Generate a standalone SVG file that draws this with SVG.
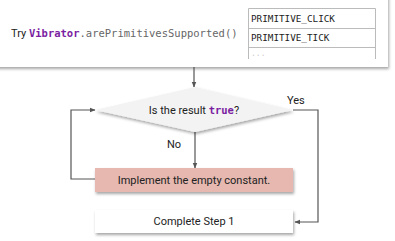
<svg xmlns="http://www.w3.org/2000/svg" width="395" height="241" viewBox="0 0 395 241">
<defs>
<filter id="sh" x="-10%" y="-20%" width="120%" height="150%">
<feDropShadow dx="1" dy="2" stdDeviation="1.5" flood-color="#000" flood-opacity="0.35"/>
</filter>
<marker id="ah" viewBox="0 0 10 10" refX="9" refY="5" markerWidth="6" markerHeight="6" orient="auto" markerUnits="userSpaceOnUse">
<path d="M0,1 L10,5 L0,9 z" fill="#555"/>
</marker>
<style>
.s{font-family:Roboto,"Liberation Sans",sans-serif;fill:#222;font-size:11px}
.m{font-family:"DejaVu Sans Mono","Liberation Mono",monospace}
.p{fill:#7b1fa2;font-weight:bold}
.ln{fill:none;stroke:#555;stroke-width:1.2}
.tb{fill:none;stroke:#bbb;stroke-width:1}
</style>
</defs>
<rect width="395" height="241" fill="#fff"/>
<g id="top">
<rect x="-10" y="-10" width="398" height="77" fill="#fff" filter="url(#sh)"/>
<text x="11" y="37" class="s">Try <tspan class="m p" font-size="10.5">Vibrator</tspan><tspan class="m" font-size="10.5" fill="#666">.arePrimitivesSupported()</tspan></text>
<g id="table">
<path class="tb" d="M248.5,59 V8.5 H375.5 V59 M248.5,28.5 H375.5 M248.5,47.5 H375.5"/>
<text x="251" y="21.5" class="m" font-size="9.3" fill="#222">PRIMITIVE_CLICK</text>
<text x="251" y="40.5" class="m" font-size="9.3" fill="#222">PRIMITIVE_TICK</text>
<text x="251" y="56" class="m" font-size="8" fill="#ccc">...</text>
</g>
</g>
<g id="connectors">
<path class="ln" d="M194,67 V87" marker-end="url(#ah)"/>
<path class="ln" d="M195,132 V168" marker-end="url(#ah)"/>
<path class="ln" d="M293,110 H318 V222 H295" marker-end="url(#ah)"/>
<path class="ln" d="M95,179 H71 V110 H95" marker-end="url(#ah)"/>
<text x="287" y="104" class="s" font-size="10.5">Yes</text>
<text x="167" y="148" class="s" font-size="10.5">No</text>
</g>
<g id="decision">
<polygon points="195,87 293,110 195,132 95,110" fill="#f3f3f3" filter="url(#sh)"/>
<text x="194" y="113.5" class="s" text-anchor="middle">Is the result <tspan class="m p" font-size="10.5">true</tspan>?</text>
</g>
<g id="implement">
<rect x="95" y="168" width="198" height="24" fill="#e6b8af" filter="url(#sh)"/>
<text x="194" y="183.5" class="s" text-anchor="middle">Implement the empty constant.</text>
</g>
<g id="complete">
<rect x="95" y="210" width="198" height="23" fill="#fff" filter="url(#sh)"/>
<text x="194" y="225" class="s" text-anchor="middle">Complete Step 1</text>
</g>
</svg>
